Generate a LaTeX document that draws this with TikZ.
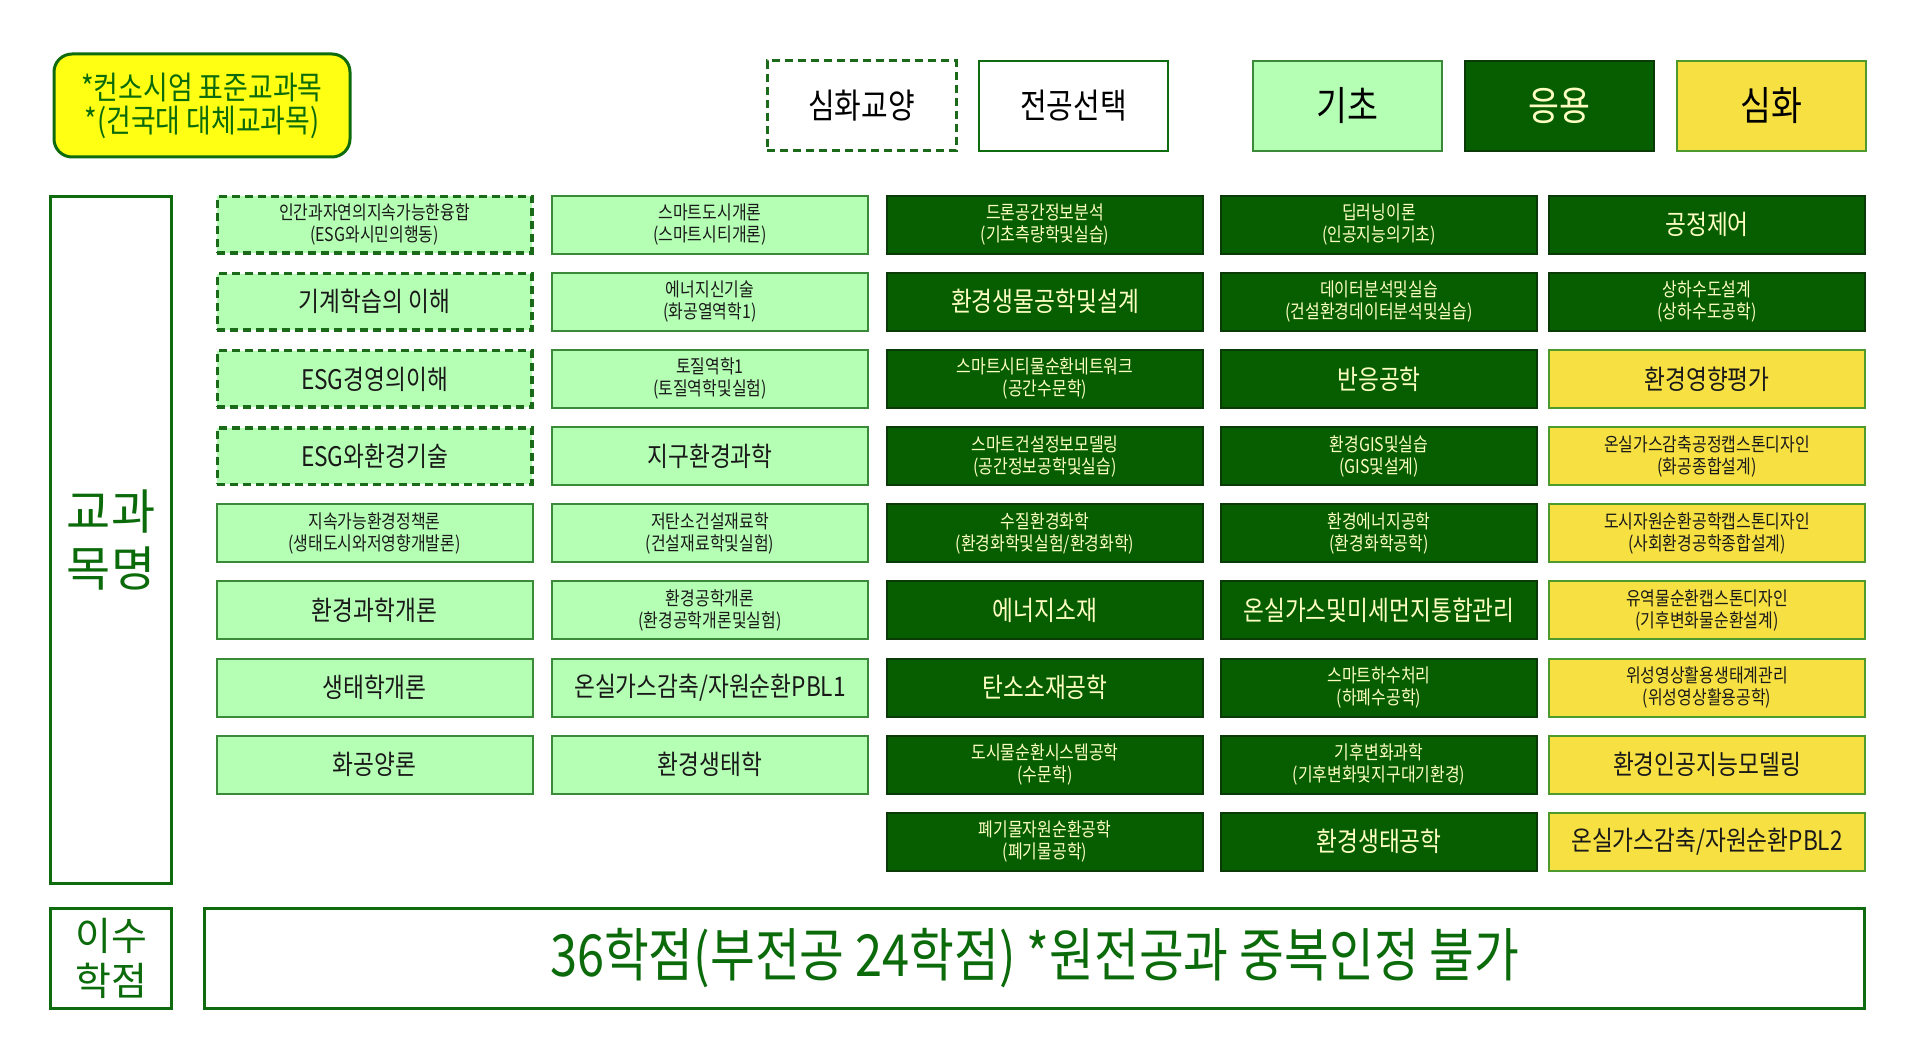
\documentclass[tikz,border=0pt]{standalone}
\usepackage{fontspec}
\newfontfamily\kr[FakeStretch=0.84]{Noto Sans CJK KR}
\newfontfamily\krw{Noto Sans CJK KR}
\definecolor{lgfill}{HTML}{B5FFB4}
\definecolor{lgline}{HTML}{3A8A3A}
\definecolor{dkfill}{HTML}{065E00}
\definecolor{dkline}{HTML}{0A3A08}
\definecolor{ylfill}{HTML}{F7E142}
\definecolor{ylline}{HTML}{4E9A2C}
\definecolor{dashcol}{HTML}{1A6A1A}
\definecolor{labline}{HTML}{0E6B0E}
\definecolor{labtext}{HTML}{0B6B0B}
\definecolor{dktext}{HTML}{FFFFC4}
\definecolor{topyel}{HTML}{FFFF14}
\tikzset{
  box/.style={draw, line width=2pt, minimum width=316pt, minimum height=58pt, inner sep=0pt, align=center},
  lg/.style={box, fill=lgfill, draw=lgline, text=black!90},
  dk/.style={box, fill=dkfill, draw=dkline, text=dktext},
  yl/.style={box, fill=ylfill, draw=ylline, text=black!90},
  dsh/.style={lg, draw=dashcol, line width=3.5pt, minimum width=314.5pt, minimum height=56.5pt, dash pattern=on 8pt off 5pt},
  sm/.style={font=\kr\fontsize{19}{22}\selectfont},
  bg/.style={font=\kr\fontsize{27}{30}\selectfont},
  legbox/.style={draw, line width=2pt, minimum width=189pt, minimum height=90pt, inner sep=0pt, align=center},
  labbox/.style={draw=labline, line width=3pt, fill=white, inner sep=0pt, align=center, text=labtext}
}
\begin{document}
\begin{tikzpicture}[x=1pt,y=-1pt]
\useasboundingbox (0,0) rectangle (1919,1051);
\fill[white] (0,0) rectangle (1919,1051);

% top-left note
\node[draw=labline, line width=3pt, fill=topyel, rounded corners=18pt, minimum width=296pt, minimum height=103pt, align=center, text=labtext, font=\kr\fontsize{32}{33}\selectfont] (note) at (202,105.5) {*컨소시엄 표준교과목\\*(건국대 대체교과목)};

% legend
\node[legbox, draw=dashcol, line width=3pt, dash pattern=on 8pt off 5pt, fill=white, font=\kr\fontsize{34.5}{36}\selectfont] (legA) at (861.5,106) {심화교양};
\node[legbox, draw=labline, fill=white, font=\kr\fontsize{34.5}{36}\selectfont] (legB) at (1073.5,106) {전공선택};
\node[legbox, fill=lgfill, draw=lgline, font=\kr\fontsize{40}{42}\selectfont] (legC) at (1347,106) {기초};
\node[legbox, fill=dkfill, draw=dkline, text=dktext, font=\kr\fontsize{40}{42}\selectfont] (legD) at (1559.5,106) {응용};
\node[legbox, fill=ylfill, draw=ylline, font=\kr\fontsize{40}{42}\selectfont] (legE) at (1771,106) {심화};

% left labels
\node[labbox, minimum width=121pt, minimum height=687pt, font=\krw\fontsize{48}{57}\selectfont] (lab1) at (111,539.8) {교과\\목명};
\node[labbox, minimum width=121pt, minimum height=100pt, font=\krw\fontsize{39}{45}\selectfont] (lab2) at (111,958.3) {이수\\학점};
\node[labbox, minimum width=1660pt, minimum height=100pt, font=\kr\fontsize{58}{60}\selectfont] (credit) at (1034.8,958.3) {36학점(부전공 24학점) *원전공과 중복인정 불가};

% column 1
\node[dsh, sm] (a1) at (374.5,224.6) {인간과자연의지속가능한융합\\(ESG와시민의행동)};
\node[dsh, bg] (a2) at (374.5,301.8) {기계학습의 이해};
\node[dsh, bg] (a3) at (374.5,378.9) {ESG경영의이해};
\node[dsh, bg] (a4) at (374.5,456.1) {ESG와환경기술};
\node[lg, sm] (a5) at (374.5,533.2) {지속가능환경정책론\\(생태도시와저영향개발론)};
\node[lg, bg] (a6) at (374.5,610.4) {환경과학개론};
\node[lg, bg] (a7) at (374.5,687.5) {생태학개론};
\node[lg, bg] (a8) at (374.5,764.7) {화공양론};

% column 2
\node[lg, sm] (b1) at (710,224.6) {스마트도시개론\\(스마트시티개론)};
\node[lg, sm] (b2) at (710,301.8) {에너지신기술\\(화공열역학1)};
\node[lg, sm] (b3) at (710,378.9) {토질역학1\\(토질역학및실험)};
\node[lg, bg] (b4) at (710,456.1) {지구환경과학};
\node[lg, sm] (b5) at (710,533.2) {저탄소건설재료학\\(건설재료학및실험)};
\node[lg, sm] (b6) at (710,610.4) {환경공학개론\\(환경공학개론및실험)};
\node[lg, bg] (b7) at (710,687.5) {온실가스감축/자원순환PBL1};
\node[lg, bg] (b8) at (710,764.7) {환경생태학};

% column 3
\node[dk, sm] (c1) at (1045,224.6) {드론공간정보분석\\(기초측량학및실습)};
\node[dk, bg] (c2) at (1045,301.8) {환경생물공학및설계};
\node[dk, sm] (c3) at (1045,378.9) {스마트시티물순환네트워크\\(공간수문학)};
\node[dk, sm] (c4) at (1045,456.1) {스마트건설정보모델링\\(공간정보공학및실습)};
\node[dk, sm] (c5) at (1045,533.2) {수질환경화학\\(환경화학및실험/환경화학)};
\node[dk, bg] (c6) at (1045,610.4) {에너지소재};
\node[dk, bg] (c7) at (1045,687.5) {탄소소재공학};
\node[dk, sm] (c8) at (1045,764.7) {도시물순환시스템공학\\(수문학)};
\node[dk, sm] (c9) at (1045,841.8) {폐기물자원순환공학\\(폐기물공학)};

% column 4
\node[dk, sm] (d1) at (1379,224.6) {딥러닝이론\\(인공지능의기초)};
\node[dk, sm] (d2) at (1379,301.8) {데이터분석및실습\\(건설환경데이터분석및실습)};
\node[dk, bg] (d3) at (1379,378.9) {반응공학};
\node[dk, sm] (d4) at (1379,456.1) {환경GIS및실습\\(GIS및설계)};
\node[dk, sm] (d5) at (1379,533.2) {환경에너지공학\\(환경화학공학)};
\node[dk, bg] (d6) at (1379,610.4) {온실가스및미세먼지통합관리};
\node[dk, sm] (d7) at (1379,687.5) {스마트하수처리\\(하폐수공학)};
\node[dk, sm] (d8) at (1379,764.7) {기후변화과학\\(기후변화및지구대기환경)};
\node[dk, bg] (d9) at (1379,841.8) {환경생태공학};

% column 5
\node[dk, bg] (e1) at (1707,224.6) {공정제어};
\node[dk, sm] (e2) at (1707,301.8) {상하수도설계\\(상하수도공학)};
\node[yl, bg] (e3) at (1707,378.9) {환경영향평가};
\node[yl, sm] (e4) at (1707,456.1) {온실가스감축공정캡스톤디자인\\(화공종합설계)};
\node[yl, sm] (e5) at (1707,533.2) {도시자원순환공학캡스톤디자인\\(사회환경공학종합설계)};
\node[yl, sm] (e6) at (1707,610.4) {유역물순환캡스톤디자인\\(기후변화물순환설계)};
\node[yl, sm] (e7) at (1707,687.5) {위성영상활용생태계관리\\(위성영상활용공학)};
\node[yl, bg] (e8) at (1707,764.7) {환경인공지능모델링};
\node[yl, bg] (e9) at (1707,841.8) {온실가스감축/자원순환PBL2};
\end{tikzpicture}
\end{document}
